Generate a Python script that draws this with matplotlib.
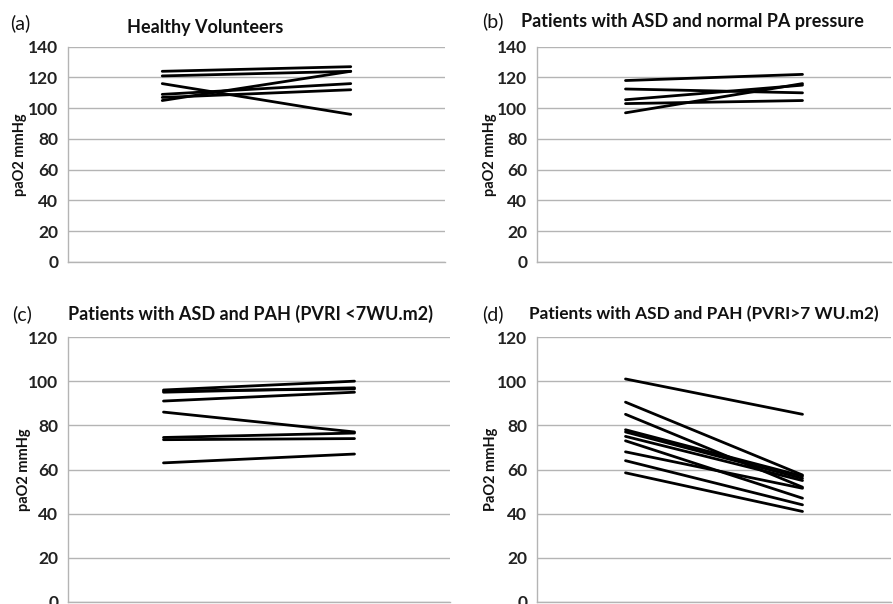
import matplotlib.pyplot as plt

W, H = 893, 604

timepoints = [0, 1]

# paO2 (mmHg) per subject, first and second measurement
hv_first = [124, 121, 116, 109, 107, 105]
hv_second = [127, 124, 96, 116, 112, 124]

asd_first = [118, 112.5, 105.5, 103, 97]
asd_second = [122, 110, 115, 105, 116]

pah_lo_first = [96, 95.5, 95, 91, 86, 74.5, 73.5, 63]
pah_lo_second = [100, 96.5, 97, 95, 77, 76.5, 74, 67]

pah_hi_first = [101, 90.5, 85, 78, 77, 75, 73, 68, 64, 58.5]
pah_hi_second = [85, 57.5, 52, 57, 56, 55, 47, 51.5, 44, 41]

panels = [
    dict(first=hv_first, second=hv_second, ymax=140, ylabel="paO2 mmHg",
         tag="(a)", title="Healthy Volunteers", title_size=13,
         box=(68, 46.7, 445, 262), tag_xy=(10, 23), title_xy=(127, 27), ylab_x=20),
    dict(first=asd_first, second=asd_second, ymax=140, ylabel="paO2 mmHg",
         tag="(b)", title="Patients with ASD and normal PA pressure", title_size=13,
         box=(537, 46.7, 891, 262), tag_xy=(482, 21), title_xy=(521, 21), ylab_x=490),
    dict(first=pah_lo_first, second=pah_lo_second, ymax=120, ylabel="paO2 mmHg",
         tag="(c)", title="Patients with ASD and PAH (PVRI <7WU.m2)", title_size=13,
         box=(68, 337, 450, 602), tag_xy=(12, 314), title_xy=(68, 314), ylab_x=24),
    dict(first=pah_hi_first, second=pah_hi_second, ymax=120, ylabel="PaO2 mmHg",
         tag="(d)", title="Patients with ASD and PAH (PVRI>7 WU.m2)", title_size=12.4,
         box=(537, 337, 891, 602), tag_xy=(482, 314), title_xy=(529, 314), ylab_x=491),
]

plt.rcParams["font.family"] = ["Lato", "DejaVu Sans"]

fig = plt.figure(figsize=(W / 100, H / 100), dpi=100)
grid_color = "#b4b4b4"

for p in panels:
    x0, y0, x1, y1 = p["box"]
    ax = fig.add_axes([x0 / W, 1 - y1 / H, (x1 - x0) / W, (y1 - y0) / H])
    for a, b in zip(p["first"], p["second"]):
        ax.plot(timepoints, [a, b], color="black", lw=2.0, solid_capstyle="round")
    ax.set_xlim(-0.5, 1.5)
    ax.set_ylim(0, p["ymax"])
    ax.set_yticks(range(0, p["ymax"] + 1, 20))
    ax.set_xticks([])
    ax.yaxis.grid(True, color=grid_color, lw=1.0)
    ax.set_axisbelow(True)
    for side in ["top", "right"]:
        ax.spines[side].set_visible(False)
    for side in ["left", "bottom"]:
        ax.spines[side].set_color(grid_color)
        ax.spines[side].set_linewidth(1.0)
    ax.tick_params(axis="y", length=0, pad=7, labelsize=12.5, labelcolor="#222222")
    for lbl in ax.get_yticklabels():
        lbl.set_fontweight("bold")

    fig.text(p["tag_xy"][0] / W, 1 - p["tag_xy"][1] / H, p["tag"],
             fontsize=14, ha="left", va="center", color="#111111")
    fig.text(p["title_xy"][0] / W, 1 - p["title_xy"][1] / H, p["title"],
             fontsize=p["title_size"], fontweight="bold", ha="left", va="center",
             color="#111111")
    fig.text(p["ylab_x"] / W, 1 - ((y0 + y1) / 2) / H, p["ylabel"], rotation=90,
             fontsize=10.5, fontweight="bold", ha="center", va="center", color="#111111")

fig.savefig("out.png", dpi=100)
